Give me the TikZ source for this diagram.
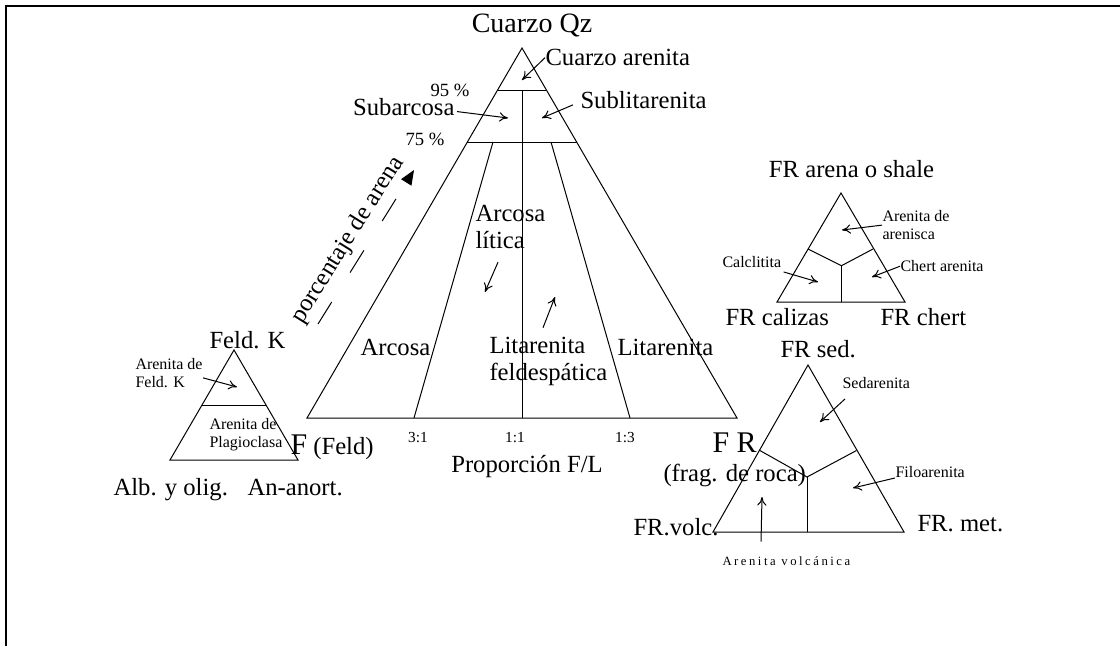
\documentclass[tikz,border=0pt]{standalone}
\usepackage{fontspec}
\setmainfont{Liberation Serif}
\usetikzlibrary{arrows.meta}

\tikzset{
  lab/.style={inner sep=0pt, font=\fontsize{18.5}{20}\selectfont},
  big lab/.style={inner sep=0pt, font=\fontsize{22.5}{24}\selectfont},
  small lab/.style={inner sep=0pt, font=\fontsize{12}{13.5}\selectfont},
  pct lab/.style={inner sep=0pt, font=\fontsize{14}{16}\selectfont},
  ratio lab/.style={inner sep=0pt, font=\fontsize{11.5}{13}\selectfont},
  tiny lab/.style={inner sep=0pt, font=\fontsize{9.5}{11}\selectfont\addfontfeature{LetterSpace=20}},
  lab arrow/.style={-{To[length=6.5pt,width=7pt]}, line width=0.75pt},
  sand arrow/.style={-{Triangle[length=11pt,width=9pt]}, line width=0.75pt, dash pattern=on 19.5pt off 26pt},
}

\begin{document}
\begin{tikzpicture}[x=0.75pt,y=0.75pt,yscale=-1,xscale=1,line width=0.75pt]
\useasboundingbox (0,0) rectangle (1120,646);

%Frame
\draw [line width=1.5pt] (1120,6) -- (6,6) -- (6,646) ;

%Shape: Triangle Qz-F-L
\coordinate (Qz) at (522,48) ;
\coordinate (F) at (307,418) ;
\coordinate (L) at (737,418) ;
\draw (Qz) -- (F) -- (L) -- cycle ;
%Straight Lines
\draw (497.6,90) -- (546.4,90) ;
\draw (467.4,142) -- (576.6,142) ;
\draw (522,90) -- (522,418) ;
\draw (493,142) -- (414,418) ;
\draw (551,142) -- (630,418) ;

%Shape: Triangle Feld. K
\coordinate (K) at (234,350) ;
\coordinate (Alb) at (170,460) ;
\coordinate (An) at (298,460) ;
\draw (K) -- (Alb) -- (An) -- cycle ;
\draw (202,405.7) -- (266,405.7) ;

%Shape: Triangle FR arena o shale
\coordinate (Sh) at (841,193) ;
\coordinate (Ca) at (777,302) ;
\coordinate (Ch) at (905,302) ;
\coordinate (Y1) at (841.5,265.7) ;
\draw (Sh) -- (Ca) -- (Ch) -- cycle ;
\draw (808,249) -- (Y1) -- (873,249) ;
\draw (Y1) -- (841.5,302) ;

%Shape: Triangle FR sed.
\coordinate (Sd) at (808,365) ;
\coordinate (Vo) at (713,532) ;
\coordinate (Me) at (904,532) ;
\coordinate (Y2) at (807,477) ;
\draw (Sd) -- (Vo) -- (Me) -- cycle ;
\draw (759,450) -- (Y2) -- (856.5,450.5) ;
\draw (Y2) -- (807,532) ;

% Text Node
\draw (532,32) node (qz) [lab, anchor=base, font=\fontsize{21}{22}\selectfont] {Cuarzo Qz};
\draw (545,65.7) node (qa) [lab, anchor=base west] {Cuarzo arenita};
\draw (470,96.7) node (p95) [pct lab, anchor=base east] {95 \%};
\draw (455,115) node (sub) [lab, anchor=base east] {Subarcosa};
\draw (580,108.3) node (subl) [lab, anchor=base west] {Sublitarenita};
\draw (445,145) node (p75) [pct lab, anchor=base east] {75 \%};
\draw (348,240) node (pa) [lab, rotate=58] {porcentaje de arena};
\draw (475,205) node (arl) [lab, anchor=north west, align=left] {Arcosa\\lítica};
\draw (360,355) node (arc) [lab, anchor=base west] {Arcosa};
\draw (489,336.7) node (ltf) [lab, anchor=north west, align=left] {Litarenita\\feldespática};
\draw (617,355) node (lit) [lab, anchor=base west] {Litarenita};
\draw (418,442.7) node (r31) [ratio lab, anchor=base] {3:1};
\draw (515,442.7) node (r11) [ratio lab, anchor=base] {1:1};
\draw (625,442.7) node (r13) [ratio lab, anchor=base] {1:3};
\draw (527,472.7) node (prop) [lab, anchor=base] {Proporción F/L};
\draw (290,454) node (feld) [lab, anchor=base west] {{\fontsize{22.5}{24}\selectfont F} (Feld)};
\draw (712,452.7) node (fr) [big lab, anchor=base west] {F R};
\draw (663,481.7) node (frag) [lab, anchor=base west] {(frag. de roca)};

% Text Node
\draw (209,348.3) node (fk) [lab, anchor=base west] {Feld. K};
\draw (135,357.7) node (afk) [small lab, anchor=north west, align=left] {Arenita de\\Feld. K};
\draw (209,418) node (apl) [small lab, anchor=north west, align=left] {Arenita de\\Plagioclasa};
\draw (113,495) node (alb) [lab, anchor=base west] {Alb. y olig.};
\draw (247,495) node (anr) [lab, anchor=base west] {An-anort.};

% Text Node
\draw (851.5,177.3) node (fra) [lab, anchor=base] {FR arena o shale};
\draw (882,210) node (aar) [small lab, anchor=north west, align=left] {Arenita de\\arenisca};
\draw (722,267.3) node (cal) [small lab, anchor=base west] {Calclitita};
\draw (900,271.7) node (cha) [small lab, anchor=base west] {Chert arenita};
\draw (725,325) node (frc) [lab, anchor=base west] {FR calizas};
\draw (880,325) node (frch) [lab, anchor=base west] {FR chert};

% Text Node
\draw (780,357.3) node (frs) [lab, anchor=base west] {FR sed.};
\draw (842,388.3) node (sed) [small lab, anchor=base west] {Sedarenita};
\draw (895,477.3) node (filo) [small lab, anchor=base west] {Filoarenita};
\draw (633,535) node (frv) [lab, anchor=base west] {FR.volc.};
\draw (917,531.7) node (frm) [lab, anchor=base west] {FR. met.};
\draw (722,565) node (avo) [tiny lab, anchor=base west] {Arenita volcánica};

%Arrow tips
\coordinate (qa-pt) at (522,80) ;
\coordinate (sub-pt) at (508,118) ;
\coordinate (subl-pt) at (542,118) ;
\coordinate (arl-pt) at (485,292) ;
\coordinate (ltf-pt) at (555,297) ;
\coordinate (afk-pt) at (237,387) ;
\coordinate (aar-pt) at (842,230) ;
\coordinate (cal-pt) at (818,282) ;
\coordinate (cha-pt) at (872,277) ;
\coordinate (sed-pt) at (820,422) ;
\coordinate (filo-pt) at (853,488) ;
\coordinate (avo-pt) at (762,497) ;
\coordinate (pa-s) at (318,324) ;
\coordinate (pa-e) at (414,170) ;

%Straight Lines
\draw [lab arrow] (qa.west) -- (qa-pt) ;
\draw [lab arrow] (sub.east) ++(2,5) -- (sub-pt) ;
\draw [lab arrow] (subl.west) ++(-7,5) -- (subl-pt) ;
\draw [lab arrow] (arl.south west) ++(23,13) -- (arl-pt) ;
\draw [lab arrow] (ltf.north west) ++(54,-9) -- (ltf-pt) ;
\draw [lab arrow] (afk.east) ++(0,5) -- (afk-pt) ;
\draw [lab arrow] (aar.west) -- (aar-pt) ;
\draw [lab arrow] (cal.south east) ++(2,4) -- (cal-pt) ;
\draw [lab arrow] (cha.west) -- (cha-pt) ;
\draw [lab arrow] (sed.south west) ++(3,10) -- (sed-pt) ;
\draw [lab arrow] (filo.south west) -- (filo-pt) ;
\draw [lab arrow] (avo.north west) ++(39,-14) -- (avo-pt) ;
\draw [sand arrow] (pa-s) -- (pa-e) ;

\end{tikzpicture}
\end{document}
